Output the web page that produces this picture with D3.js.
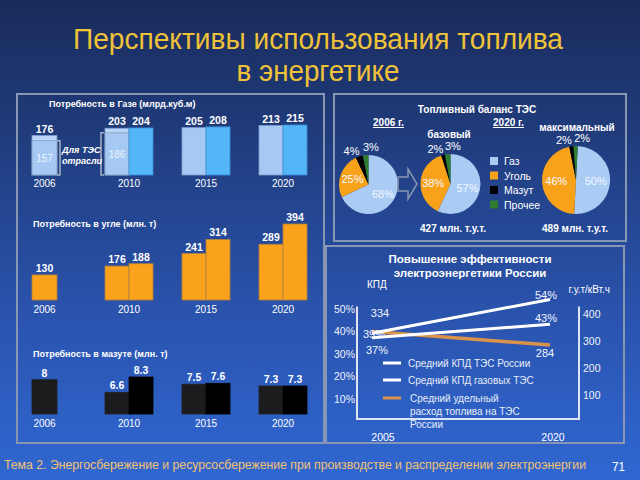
<!DOCTYPE html>
<html><head><meta charset="utf-8">
<script src="https://cdn.jsdelivr.net/npm/d3@7"></script>
<style>
html,body{margin:0;padding:0;background:#223f85;}
svg{display:block;font-family:"Liberation Sans",Arial,sans-serif;}
</style></head><body>
<svg id="c" width="640" height="480"></svg>
<script>
// ---------- DATA ----------
const years = ["2006","2010","2015","2020"];
const gasTES = [157,186,null,null];
const gasBase = [176,203,205,213];
const gasMax = [null,204,208,215];
const coalBase = [130,176,241,289];
const coalMax = [null,188,314,394];
const mazutBase = [8,6.6,7.5,7.3];
const mazutMax = [null,8.3,7.6,7.3];

const fuelTypes = ["Газ","Уголь","Мазут","Прочее"];
const share2006 = [68,25,4,3];
const share2020base = [57,38,2,3];
const share2020max = [50,46,2,2];

const effYears = [2005,2020];
const kpdGasTPP = [39,54];
const kpdAllTPP = [37,43];
const fuelRate = [334,284];
const kpdTicks = [10,20,30,40,50];
const rateTicks = [100,200,300,400];
const effLegend = ["Средний КПД ТЭС России","Средний КПД газовых ТЭС","Средний удельный|расход топлива на ТЭС|России"];

// ---------- STYLE ----------
const fuelColors = ["#a9cbf4","#f8a21a","#000000","#2f7d2f"];
const svg = d3.select("#c");
const defs = svg.append("defs");
const grad = defs.append("linearGradient").attr("id","bg").attr("x1",0).attr("y1",0).attr("x2",0).attr("y2",1);
[["0","#1a2b5b"],["0.25","#1f3a78"],["0.65","#2a53ad"],["1","#3067d2"]].forEach(s=>grad.append("stop").attr("offset",s[0]).attr("stop-color",s[1]));
svg.append("rect").attr("width",640).attr("height",480).attr("fill","url(#bg)");

// title
svg.append("text").attr("x",318).attr("y",49).attr("text-anchor","middle").attr("font-size",29)
  .attr("fill","#f0c238").attr("textLength",490).attr("lengthAdjust","spacingAndGlyphs").text("Перспективы использования топлива");
svg.append("text").attr("x",318).attr("y",81).attr("text-anchor","middle").attr("font-size",29)
  .attr("fill","#f0c238").attr("textLength",163).attr("lengthAdjust","spacingAndGlyphs").text("в энергетике");
// footer
svg.append("text").attr("x",4).attr("y",469).attr("font-size",12.5).attr("fill","#f3c271")
  .attr("textLength",582).attr("lengthAdjust","spacingAndGlyphs")
  .text("Тема 2. Энергосбережение и ресурсосбережение при производстве и распределении электроэнергии");
svg.append("text").attr("x",612).attr("y",471).attr("font-size",13).attr("fill","#ffffff")
  .attr("textLength",13).attr("lengthAdjust","spacingAndGlyphs").text("71");

// panels
const panelStroke = "#8797b3";
[[17,94,307,349],[334,94,292,147],[326,246,298,197]].forEach(p=>
  svg.append("rect").attr("x",p[0]).attr("y",p[1]).attr("width",p[2]).attr("height",p[3])
   .attr("fill","none").attr("stroke",panelStroke).attr("stroke-width",2));

// ---------- BAR CHARTS ----------
const xg = d3.scaleBand().domain(years).range([13.5,321.5]);
const bw = 24;
function center(yr){ return xg(yr)+xg.bandwidth()/2; }

function drawBars(o){
  const g = svg.append("g");
  g.append("text").attr("x",o.titleX).attr("y",o.titleY).attr("font-size",9).attr("font-weight","bold")
    .attr("fill","#fff").text(o.title);
  const y0 = o.y.range()[0];
  years.forEach((yr,i)=>{
    const c = center(yr);
    const single = o.max[i]==null;
    const bx = single ? c-20 : c-bw;
    const w = single ? 25 : bw;
    const vb = o.base[i];
    const hasTes = o.tes && o.tes[i]!=null;
    g.append("rect").attr("x",bx).attr("y",o.y(vb)).attr("width",w).attr("height",y0-o.y(vb))
      .attr("fill",hasTes?o.topColor:o.baseColor).attr("stroke",o.baseStroke).attr("stroke-width",0.8);
    if(hasTes){
      const vt = o.tes[i];
      g.append("rect").attr("x",bx).attr("y",o.y(vt)).attr("width",w).attr("height",y0-o.y(vt))
        .attr("fill",o.baseColor).attr("stroke","#8aa0c0").attr("stroke-width",0.8);
      g.append("text").attr("x",bx+w/2).attr("y",(o.y(vt)+y0)/2+4).attr("text-anchor","middle")
        .attr("font-size",10).attr("fill","#eef4ff").text(vt);
      const y1 = o.y(vt), y2 = y0;
      const bxp = single ? bx+w : bx-1;
      const dir = single ? 1 : -1;
      const xv = bxp + dir*3;
      g.append("path").attr("d",`M${bxp},${y1}H${xv}V${y2}H${bxp}`).attr("fill","none")
        .attr("stroke","#a9b2c4").attr("stroke-width",1.5);
    }
    g.append("text").attr("x",bx+w/2).attr("y",o.y(vb)-3).attr("text-anchor","middle")
      .attr("font-size",10.5).attr("font-weight","bold").attr("fill","#fff").text(o.fmt(vb));
    if(!single){
      const vm = o.max[i];
      g.append("rect").attr("x",c).attr("y",o.y(vm)).attr("width",bw).attr("height",y0-o.y(vm))
        .attr("fill",o.maxColor).attr("stroke",o.maxStroke).attr("stroke-width",0.8);
      g.append("text").attr("x",c+bw/2).attr("y",o.y(vm)-3).attr("text-anchor","middle")
        .attr("font-size",10.5).attr("font-weight","bold").attr("fill","#fff").text(o.fmt(vm));
    }
    g.append("text").attr("x",single?bx+w/2:c).attr("y",o.yearY).attr("text-anchor","middle")
      .attr("font-size",10).attr("fill","#fff").text(yr);
  });
  return g;
}

const yGas = d3.scaleLinear().domain([30,215]).range([175,125]);
const gGas = drawBars({base:gasBase,max:gasMax,tes:gasTES,y:yGas,baseColor:"#a6c9f4",topColor:"#b9d6fa",
  maxColor:"#53b6f6",baseStroke:"#7f9fd0",maxStroke:"#3a8ed6",fmt:d=>d,
  title:"Потребность в Газе (млрд.куб.м)",titleX:49,titleY:107,yearY:187});
gGas.append("text").attr("x",62).attr("y",153).attr("font-size",9).attr("font-weight","bold")
  .attr("font-style","italic").attr("fill","#fff").text("Для ТЭС");
gGas.append("text").attr("x",62).attr("y",164).attr("font-size",9).attr("font-weight","bold")
  .attr("font-style","italic").attr("fill","#fff").text("отрасли");

const yCoal = d3.scaleLinear().domain([0,394]).range([300,224]);
drawBars({base:coalBase,max:coalMax,y:yCoal,baseColor:"#fba21c",maxColor:"#fba21c",
  baseStroke:"#b08040",maxStroke:"#b08040",fmt:d=>d,
  title:"Потребность в угле (млн. т)",titleX:33,titleY:227,yearY:313});

const yMaz = d3.scaleLinear().domain([4.2,8.3]).range([414,377]);
drawBars({base:mazutBase,max:mazutMax,y:yMaz,baseColor:"#1c1c1e",maxColor:"#000000",
  baseStroke:"#222",maxStroke:"#000",fmt:d=>String(d),
  title:"Потребность в мазуте (млн. т)",titleX:33,titleY:357,yearY:427});

// ---------- PIES ----------
const gp = svg.append("g");
gp.append("text").attr("x",477).attr("y",113).attr("text-anchor","middle").attr("font-size",10)
  .attr("font-weight","bold").attr("fill","#fff").text("Топливный баланс ТЭС");
[["2006 г.",388.5],["2020 г.",508.5]].forEach(t=>{
  gp.append("text").attr("x",t[1]).attr("y",126).attr("text-anchor","middle").attr("font-size",10)
    .attr("font-weight","bold").attr("fill","#fff").attr("text-decoration","underline").text(t[0]);
});
gp.append("text").attr("x",449).attr("y",138).attr("text-anchor","middle").attr("font-size",10)
  .attr("font-weight","bold").attr("fill","#fff").text("базовый");
gp.append("text").attr("x",577).attr("y",131).attr("text-anchor","middle").attr("font-size",10)
  .attr("font-weight","bold").attr("fill","#fff").text("максимальный");
gp.append("text").attr("x",453).attr("y",232).attr("text-anchor","middle").attr("font-size",10)
  .attr("font-weight","bold").attr("fill","#fff").text("427 млн. т.у.т.");
gp.append("text").attr("x",575).attr("y",232).attr("text-anchor","middle").attr("font-size",10)
  .attr("font-weight","bold").attr("fill","#fff").text("489 млн. т.у.т.");

function drawPie(vals,cx,cy,r,offsetDeg){
  const off = offsetDeg*Math.PI/180;
  const pie = d3.pie().sort(null).value(d=>d).startAngle(off).endAngle(off+2*Math.PI);
  const arcs = pie(vals);
  const arc = d3.arc().innerRadius(0).outerRadius(r);
  const g = gp.append("g").attr("transform",`translate(${cx},${cy})`);
  g.selectAll("path").data(arcs).join("path").attr("d",arc).attr("fill",(d,i)=>fuelColors[i]);
  let smallIdx = 0;
  arcs.forEach((a,i)=>{
    let mid = (a.startAngle+a.endAngle)/2, rad;
    if(a.data>=10){ rad = r*0.58; }
    else { rad = r+8; mid += (smallIdx===0?-9:9)*Math.PI/180; smallIdx++; }
    const x = Math.sin(mid)*rad, y = -Math.cos(mid)*rad;
    g.append("text").attr("x",x).attr("y",y+4).attr("text-anchor","middle").attr("font-size",11)
      .attr("fill",a.data>=10?"#f4f8ff":"#ffffff").text(a.data+"%");
  });
}
drawPie(share2006,368.5,184.5,29.5,0);
drawPie(share2020base,450.5,184,30,0);
drawPie(share2020max,576,180,34,3);

// arrow
gp.append("path").attr("d","M398,177H408V169L417,184L408,199V191H398Z").attr("fill","none")
  .attr("stroke","#8a96b0").attr("stroke-width",1.5);

// legend
fuelTypes.forEach((f,i)=>{
  const yy = 157+i*14.5;
  gp.append("rect").attr("x",490).attr("y",yy).attr("width",8).attr("height",8).attr("fill",fuelColors[i]);
  gp.append("text").attr("x",504).attr("y",yy+8).attr("font-size",10.5).attr("fill","#fff").text(f);
});

// ---------- EFFICIENCY LINES ----------
const ge = svg.append("g");
ge.append("text").attr("x",470).attr("y",263).attr("text-anchor","middle").attr("font-size",11.5)
  .attr("font-weight","bold").attr("fill","#fff").text("Повышение эффективности");
ge.append("text").attr("x",470).attr("y",277).attr("text-anchor","middle").attr("font-size",11.5)
  .attr("font-weight","bold").attr("fill","#fff").text("электроэнергетики России");
ge.append("text").attr("x",367).attr("y",288).attr("font-size",10).attr("fill","#fff").text("КПД");
ge.append("text").attr("x",610).attr("y",293).attr("text-anchor","end").attr("font-size",10).attr("fill","#fff").text("г.у.т/кВт.ч");

const xE = d3.scaleLinear().domain(effYears).range([372,550]);
const xELab = d3.scaleLinear().domain(effYears).range([383,553]);
const yK = d3.scaleLinear().domain([0,50]).range([421,308.5]);
const yR = d3.scaleLinear().domain([0,400]).range([422,313.5]);

kpdTicks.forEach(t=>ge.append("text").attr("x",355).attr("y",yK(t)+4).attr("text-anchor","end")
  .attr("font-size",10.5).attr("fill","#eef2fb").text(t+"%"));
rateTicks.forEach(t=>ge.append("text").attr("x",583).attr("y",yR(t)+4)
  .attr("font-size",10.5).attr("fill","#eef2fb").text(t));
effYears.forEach(t=>ge.append("text").attr("x",xELab(t)).attr("y",441).attr("text-anchor","middle")
  .attr("font-size",10.5).attr("fill","#fff").text(t));

const legY = [363,380,398];
effLegend.forEach((txt,i)=>{
  ge.append("line").attr("x1",383).attr("x2",401).attr("y1",legY[i]).attr("y2",legY[i])
    .attr("stroke",i===2?"#d8924a":"#ffffff").attr("stroke-width",3);
  txt.split("|").forEach((ln,j)=>ge.append("text").attr("x",i===2?410:408).attr("y",legY[i]+4+j*13)
    .attr("font-size",10).attr("fill","#e8eef8").text(ln));
});

ge.append("path").attr("d",`M357,${yK(50)-2}V419H579V${yK(50)-2}`).attr("fill","none")
  .attr("stroke","#dde4f4").attr("stroke-width",2);

const lineK = d3.line().x((d,i)=>xE(effYears[i])).y(d=>yK(d));
const lineR = d3.line().x((d,i)=>xE(effYears[i])).y(d=>yR(d));
ge.append("path").attr("d",lineR(fuelRate)).attr("stroke","#d8924a").attr("stroke-width",3.5).attr("fill","none");
ge.append("path").attr("d",lineK(kpdGasTPP)).attr("stroke","#fff").attr("stroke-width",3).attr("fill","none");
ge.append("path").attr("d",lineK(kpdAllTPP)).attr("stroke","#fff").attr("stroke-width",3).attr("fill","none");

function lab(txt,x,y){ ge.append("text").attr("x",x).attr("y",y).attr("text-anchor","middle")
  .attr("font-size",11).attr("fill","#f0f4ff").text(txt); }
lab(kpdGasTPP[0]+"%", xE(2005)+2, yK(kpdGasTPP[0])+5);
lab(kpdGasTPP[1]+"%", xE(2020)-4, yK(kpdGasTPP[1])-1);
lab(kpdAllTPP[0]+"%", xE(2005)+5, yK(kpdAllTPP[0])+16);
lab(kpdAllTPP[1]+"%", xE(2020)-4, yK(kpdAllTPP[1])-2);
lab(fuelRate[0], xE(2005)+8, yR(fuelRate[0])-14);
lab(fuelRate[1], xE(2020)-5, yR(fuelRate[1])+12);
</script></body></html>
